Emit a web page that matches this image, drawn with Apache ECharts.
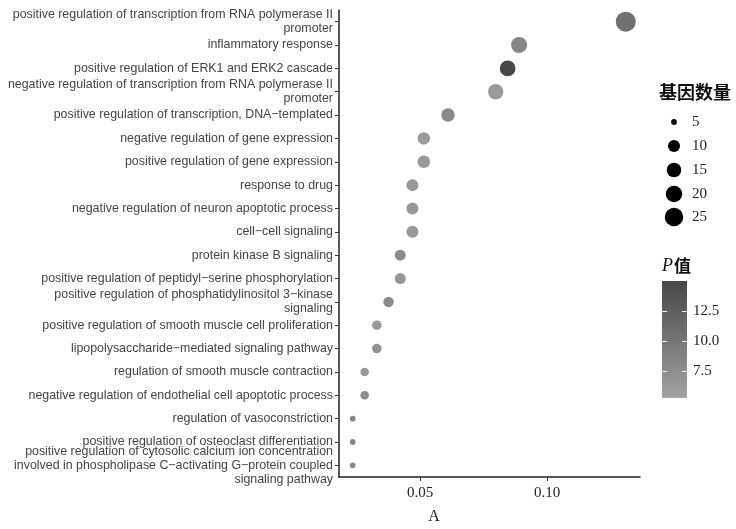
<!DOCTYPE html>
<html>
<head>
<meta charset="utf-8">
<script src="https://cdn.jsdelivr.net/npm/echarts@6/dist/echarts.min.js"></script>
<style>html,body{margin:0;padding:0;background:#fff}#c{width:736px;height:529px}</style>
</head>
<body>
<div id="c"></div>
<script>
// ---- data (top to bottom) ----
var categories = [
  "positive regulation of transcription from RNA polymerase II\npromoter",
  "inflammatory response",
  "positive regulation of ERK1 and ERK2 cascade",
  "negative regulation of transcription from RNA polymerase II\npromoter",
  "positive regulation of transcription, DNA\u2212templated",
  "negative regulation of gene expression",
  "positive regulation of gene expression",
  "response to drug",
  "negative regulation of neuron apoptotic process",
  "cell\u2212cell signaling",
  "protein kinase B signaling",
  "positive regulation of peptidyl\u2212serine phosphorylation",
  "positive regulation of phosphatidylinositol 3\u2212kinase\nsignaling",
  "positive regulation of smooth muscle cell proliferation",
  "lipopolysaccharide\u2212mediated signaling pathway",
  "regulation of smooth muscle contraction",
  "negative regulation of endothelial cell apoptotic process",
  "regulation of vasoconstriction",
  "positive regulation of osteoclast differentiation",
  "positive regulation of cytosolic calcium ion concentration\ninvolved in phospholipase C\u2212activating G\u2212protein coupled\nsignaling pathway"
];
var ratioValues = [0.131, 0.089, 0.0845, 0.0798, 0.061, 0.0515, 0.0515, 0.047, 0.047, 0.047,
                   0.0422, 0.0422, 0.0376, 0.033, 0.033, 0.0282, 0.0282, 0.0235, 0.0235, 0.0235];
var geneCounts = [28, 19, 18, 17, 13, 11, 11, 10, 10, 10, 9, 9, 8, 7, 7, 6, 6, 5, 5, 5];
var pValues = [10.5, 8.2, 15.0, 6.2, 8.0, 6.3, 6.3, 6.3, 6.5, 6.3, 7.8, 6.5, 7.8, 6.3, 7.0, 6.3, 7.5, 8.0, 8.0, 8.0];
var sizeLegendValues = [5, 10, 15, 20, 25];
var xTickValues = [0.05, 0.10];
var colorTickValues = [12.5, 10.0, 7.5];
var pMin = 5.2, pMax = 15.0;

// size scale (style): piecewise-linear mapping from gene count to pixel diameter
var sizeAnchors = [[5, 5.8], [6, 8.5], [7, 9.5], [8, 10.5], [9, 11], [10, 12], [15, 14.5], [20, 16.5], [25, 18.5], [28, 20]];
function sizeOf(c) {
  if (c <= sizeAnchors[0][0]) return sizeAnchors[0][1];
  for (var i = 1; i < sizeAnchors.length; i++) {
    var a = sizeAnchors[i - 1], b = sizeAnchors[i];
    if (c <= b[0]) return a[1] + (b[1] - a[1]) * (c - a[0]) / (b[0] - a[0]);
  }
  return sizeAnchors[sizeAnchors.length - 1][1];
}
var colLight = '#a3a3a3', colDark = '#474747';

var seriesData = categories.map(function (c, i) {
  return [ratioValues[i], c, pValues[i], geneCounts[i]];
});

var chart = echarts.init(document.getElementById('c'));

// color bar geometry
var cbLeft = 662, cbTop = 281, cbW = 25, cbH = 117;
function cbY(v) { return cbTop + (pMax - v) / (pMax - pMin) * cbH; }

var graphics = [];
graphics.push({ type: 'text', left: 659, top: 83,
  style: { text: '基因数量', font: 'bold 18px "Noto Sans CJK SC"', fill: '#111' } });
var legendYs = [122, 146, 170, 194, 217];
sizeLegendValues.forEach(function (v, i) {
  var s = sizeOf(v);
  graphics.push({ type: 'circle', shape: { cx: 674, cy: legendYs[i], r: s / 2 }, style: { fill: '#000' } });
  graphics.push({ type: 'text', x: 692, y: legendYs[i],
    style: { text: String(v), font: '15px "Liberation Serif"', fill: '#222', verticalAlign: 'middle' } });
});
graphics.push({ type: 'text', x: 662, y: 266,
  style: { text: 'P', font: 'italic 18px "Liberation Serif"', fill: '#111', verticalAlign: 'middle' } });
graphics.push({ type: 'text', x: 674, y: 266,
  style: { text: '值', font: 'bold 17px "Noto Sans CJK SC"', fill: '#111', verticalAlign: 'middle' } });
graphics.push({ type: 'rect', shape: { x: cbLeft, y: cbTop, width: cbW, height: cbH },
  style: { fill: new echarts.graphic.LinearGradient(0, 0, 0, 1, [
    { offset: 0, color: colDark }, { offset: 1, color: colLight }]) } });
colorTickValues.forEach(function (v) {
  var y = Math.round(cbY(v)) + 0.5;
  graphics.push({ type: 'line', shape: { x1: cbLeft, y1: y, x2: cbLeft + 5, y2: y }, style: { stroke: '#eee', lineWidth: 1 }, z: 100 });
  graphics.push({ type: 'line', shape: { x1: cbLeft + cbW - 5, y1: y, x2: cbLeft + cbW, y2: y }, style: { stroke: '#eee', lineWidth: 1 }, z: 100 });
  graphics.push({ type: 'text', x: 693, y: y,
    style: { text: v.toFixed(1), font: '15px "Liberation Serif"', fill: '#222', verticalAlign: 'middle' } });
});
graphics.push({ type: 'text', x: 434, y: 517,
  style: { text: 'A', font: '16px "Liberation Serif"', fill: '#222', align: 'center', verticalAlign: 'middle' } });

chart.setOption({
  backgroundColor: '#fff',
  animation: false,
  grid: { left: 339, right: 96, top: 10, bottom: 52, containLabel: false },
  xAxis: {
    type: 'value', min: 0.0181, max: 0.1366,
    axisLine: { show: true, lineStyle: { color: '#222', width: 1.5 } },
    axisTick: { show: true, length: 4, lineStyle: { color: '#333' }, customValues: xTickValues },
    axisLabel: { customValues: xTickValues, formatter: function (v) { return v.toFixed(2); },
      fontFamily: 'Liberation Serif', fontSize: 15, color: '#222', margin: 9 },
    splitLine: { show: false }
  },
  yAxis: {
    type: 'category', data: categories, inverse: true, boundaryGap: true,
    axisLine: { show: true, lineStyle: { color: '#222', width: 1.5 } },
    axisTick: { show: true, alignWithLabel: true, length: 4, lineStyle: { color: '#333' } },
    axisLabel: { interval: 0, fontFamily: 'Liberation Sans', fontSize: 12.4, color: '#444',
      lineHeight: 14, margin: 6, align: 'right' },
    splitLine: { show: false }
  },
  visualMap: [{
    type: 'continuous', show: false, dimension: 2, min: pMin, max: pMax,
    inRange: { color: [colLight, colDark] }, seriesIndex: 0
  }],
  series: [{
    type: 'scatter', data: seriesData,
    symbolSize: function (d) { return sizeOf(d[3]); },
    itemStyle: { opacity: 1 }
  }],
  graphic: graphics
});
</script>
</body>
</html>
